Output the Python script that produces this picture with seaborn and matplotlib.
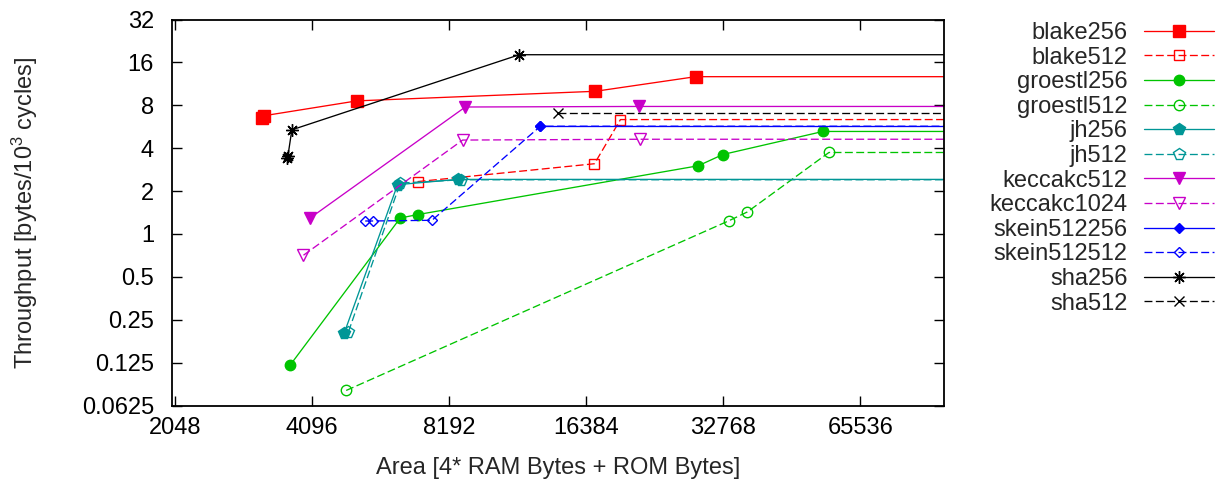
import matplotlib
matplotlib.use("Agg")
import matplotlib.pyplot as plt
import matplotlib.ticker as mticker
import seaborn as sns

# ---------------- data ----------------
blake256_x = [3180, 3210, 5143, 17175, 28480]
blake256_y = [6.55, 6.75, 8.59, 10.03, 12.70]

blake512_x = [6989, 17088, 19490]
blake512_y = [2.33, 3.11, 6.35]

groestl256_x = [3670, 6403, 6989, 28880, 32700, 54230]
groestl256_y = [0.120, 1.294, 1.367, 3.01, 3.61, 5.24]

groestl512_x = [4872, 33776, 36995, 55900]
groestl512_y = [0.0797, 1.241, 1.426, 3.73]

jh256_x = [4823, 6316, 8556]
jh256_y = [0.201, 2.217, 2.415]

jh512_x = [4929, 6403, 8705]
jh512_y = [0.206, 2.275, 2.40]

keccakc512_x = [4061, 8896, 21380]
keccakc512_y = [1.294, 7.78, 7.85]

keccakc1024_x = [3926, 8776, 21565]
keccakc1024_y = [0.709, 4.56, 4.62]

skein512256_x = [13001]
skein512256_y = [5.70]

skein512512_x = [5364, 5566, 7517, 13001]
skein512512_y = [1.233, 1.233, 1.247, 5.70]

sha256_x = [3620, 3628, 3702, 11690]
sha256_y = [3.40, 3.50, 5.38, 18.11]

sha512_x = [14222]
sha512_y = [7.11]

series_names = ["blake256", "blake512", "groestl256", "groestl512", "jh256", "jh512",
                "keccakc512", "keccakc1024", "skein512256", "skein512512", "sha256", "sha512"]
series_x = [blake256_x, blake512_x, groestl256_x, groestl512_x, jh256_x, jh512_x,
            keccakc512_x, keccakc1024_x, skein512256_x, skein512512_x, sha256_x, sha512_x]
series_y = [blake256_y, blake512_y, groestl256_y, groestl512_y, jh256_y, jh512_y,
            keccakc512_y, keccakc1024_y, skein512256_y, skein512512_y, sha256_y, sha512_y]

x_ticks = [2048, 4096, 8192, 16384, 32768, 65536]
x_tick_labels = ["2048", "4096", "8192", "16384", "32768", "65536"]
y_ticks = [0.0625, 0.125, 0.25, 0.5, 1, 2, 4, 8, 16, 32]
y_tick_labels = ["0.0625", "0.125", "0.25", "0.5", "1", "2", "4", "8", "16", "32"]

x_label = "Area [4* RAM Bytes + ROM Bytes]"
y_label = r"Throughput [bytes/10$^{3}$ cycles]"

# ---------------- styles ----------------
RED, GREEN, TEAL, MAG, BLUE, BLACK = "#ff0000", "#00c400", "#009696", "#c800c8", "#0000ff", "#000000"
styles = [
    dict(color=RED, marker="s", ms=8.0, filled=True, dashed=False),
    dict(color=RED, marker="s", ms=7.5, filled=False, dashed=True),
    dict(color=GREEN, marker="o", ms=7.5, filled=True, dashed=False),
    dict(color=GREEN, marker="o", ms=7.5, filled=False, dashed=True),
    dict(color=TEAL, marker="p", ms=8.5, filled=True, dashed=False),
    dict(color=TEAL, marker="p", ms=8.5, filled=False, dashed=True),
    dict(color=MAG, marker="v", ms=8.0, filled=True, dashed=False),
    dict(color=MAG, marker="v", ms=8.0, filled=False, dashed=True),
    dict(color=BLUE, marker="D", ms=5.5, filled=True, dashed=False),
    dict(color=BLUE, marker="D", ms=5.5, filled=False, dashed=True),
    dict(color=BLACK, marker=(8, 2, 0), ms=9.0, filled=True, dashed=False),
    dict(color=BLACK, marker="x", ms=7.5, filled=False, dashed=True),
]

sns.set_style("ticks")
plt.rcParams["font.family"] = ["Liberation Sans", "DejaVu Sans"]
plt.rcParams["mathtext.default"] = "regular"
FS = 17

X_MIN, X_MAX = 2020, 100000
Y_MIN, Y_MAX = 0.0625, 32

fig = plt.figure(figsize=(12.24, 4.82), dpi=100)
ax = fig.add_axes([172 / 1224, 1 - 405.5 / 482, (944 - 172) / 1224, (405.5 - 19.5) / 482])
ax.set_xscale("log", base=2)
ax.set_yscale("log", base=2)

handles = []
for name, xs, ys, st in zip(series_names, series_x, series_y, styles):
    # line continues horizontally to the right border after the last point
    xl = list(xs) + [X_MAX * 4]
    yl = list(ys) + [ys[-1]]
    ls = (0, (6, 2.6)) if st["dashed"] else "-"
    mfc = st["color"] if st["filled"] else "none"
    sns.lineplot(x=xl, y=yl, ax=ax, sort=False, estimator=None, color=st["color"],
                 linestyle=ls, linewidth=0.95, marker=st["marker"], markersize=st["ms"],
                 markerfacecolor=mfc, markeredgecolor=st["color"], markeredgewidth=1.0,
                 markevery=list(range(len(xs))), label=name, legend=False)
    handles.append(ax.lines[-1])

ax.set_xlim(X_MIN, X_MAX)
ax.set_ylim(Y_MIN, Y_MAX)
ax.xaxis.set_major_locator(mticker.FixedLocator(x_ticks))
ax.xaxis.set_major_formatter(mticker.FixedFormatter(x_tick_labels))
ax.yaxis.set_major_locator(mticker.FixedLocator(y_ticks))
ax.yaxis.set_major_formatter(mticker.FixedFormatter(y_tick_labels))
ax.xaxis.set_minor_locator(mticker.NullLocator())
ax.yaxis.set_minor_locator(mticker.NullLocator())

ax.tick_params(axis="both", which="major", direction="in", length=7, width=1.0,
               top=True, right=True, labelsize=FS, colors="black")
ax.tick_params(axis="x", pad=8.5)
ax.tick_params(axis="y", pad=13)
for sp in ax.spines.values():
    sp.set_visible(True)
    sp.set_linewidth(1.3)
    sp.set_color("black")

ax.set_xlabel(x_label, fontsize=FS)
ax.set_ylabel(y_label, fontsize=FS)
ax.xaxis.set_label_coords(0.5, -0.133)
ax.yaxis.set_label_coords(-0.171, 0.5)

leg = ax.legend(handles, series_names, loc="upper right",
                bbox_to_anchor=(1214 / 1224, 1 - 22 / 482), bbox_transform=fig.transFigure,
                markerfirst=False, frameon=False, fontsize=FS, handlelength=2.95,
                handletextpad=0.7, labelspacing=0.11, borderpad=0, borderaxespad=0,
                numpoints=1)

fig.savefig("out.png", dpi=100)
